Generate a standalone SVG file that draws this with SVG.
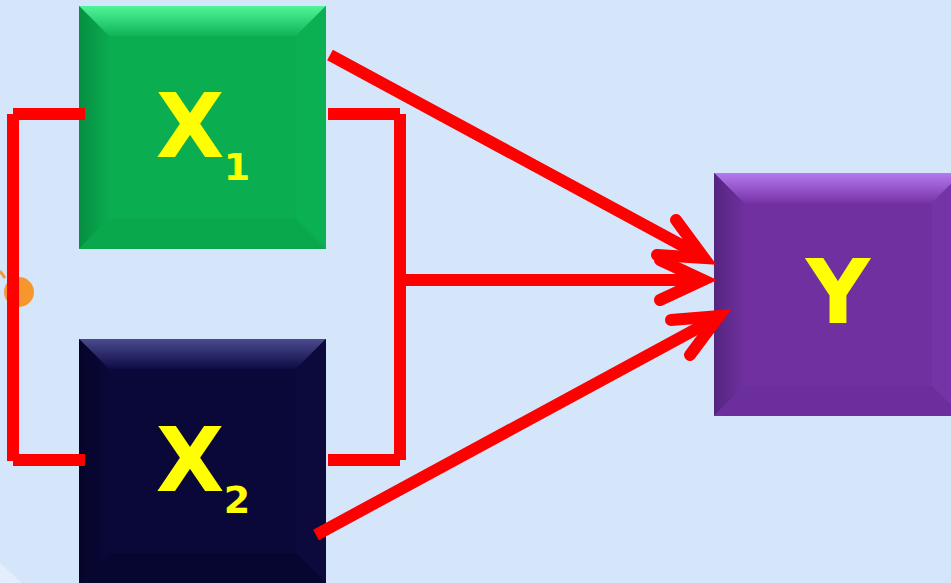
<svg xmlns="http://www.w3.org/2000/svg" width="951" height="583" viewBox="0 0 951 583">
<defs>
<linearGradient id="gTop" x1="0" y1="0" x2="0" y2="1"><stop offset="0" stop-color="#50f59a"/><stop offset="1" stop-color="#10b457"/></linearGradient>
<linearGradient id="gLeft" x1="0" y1="0" x2="1" y2="0"><stop offset="0" stop-color="#068f42"/><stop offset="1" stop-color="#0aab4f"/></linearGradient>
<linearGradient id="pTop" x1="0" y1="0" x2="0" y2="1"><stop offset="0" stop-color="#b57af0"/><stop offset="1" stop-color="#7634a6"/></linearGradient>
<linearGradient id="pLeft" x1="0" y1="0" x2="1" y2="0"><stop offset="0" stop-color="#542580"/><stop offset="1" stop-color="#6e309e"/></linearGradient>
<linearGradient id="nTop" x1="0" y1="0" x2="0" y2="1"><stop offset="0" stop-color="#4a4a8e"/><stop offset="1" stop-color="#0e0c45"/></linearGradient>
<linearGradient id="nLeft" x1="0" y1="0" x2="1" y2="0"><stop offset="0" stop-color="#050428"/><stop offset="1" stop-color="#0a0838"/></linearGradient>
</defs>
<style>
.lbl{font-family:"DejaVu Sans",Verdana,sans-serif;font-weight:bold;fill:#ffff00;text-anchor:middle}
.big{font-size:89px}
.sub{font-size:38px}
.wire{fill:none;stroke:#ff0000;stroke-width:12;stroke-linecap:butt}
.head{fill:none;stroke:#ff0000;stroke-width:12;stroke-linecap:round;stroke-linejoin:miter;stroke-miterlimit:10}
</style>
<rect width="951" height="583" fill="#d6e6fa"/>
<polygon points="0,563 22,583 0,583" fill="#e3eefc"/>
<line x1="0" y1="271" x2="5" y2="278" stroke="#f7962f" stroke-width="3"/>
<circle cx="19" cy="292" r="15" fill="#f7962f"/>

<g id="X1">
<rect x="79" y="6" width="247" height="243" fill="#0aad50"/>
<polygon points="79,6 326,6 296,36 109,36" fill="url(#gTop)"/>
<polygon points="79,6 109,36 109,219 79,249" fill="url(#gLeft)"/>
<polygon points="326,6 326,249 296,219 296,36" fill="#0bb052"/>
<polygon points="79,249 109,219 296,219 326,249" fill="#0aa84d"/>
<text class="lbl big" x="190" y="157">X</text>
<text class="lbl sub" x="237" y="180">1</text>
</g>

<g id="X2">
<rect x="79" y="339" width="247" height="244" fill="#0a0838"/>
<polygon points="79,339 326,339 296,369 109,369" fill="url(#nTop)"/>
<polygon points="79,339 109,369 109,553 79,583" fill="url(#nLeft)"/>
<polygon points="326,339 326,583 296,553 296,369" fill="#0c0a3c"/>
<polygon points="79,583 109,553 296,553 326,583" fill="#070630"/>
<text class="lbl big" x="190" y="491">X</text>
<text class="lbl sub" x="237" y="513">2</text>
</g>

<g id="Y">
<rect x="714" y="173" width="248" height="243" fill="#7030a0"/>
<polygon points="714,173 962,173 932,203 744,203" fill="url(#pTop)"/>
<polygon points="714,173 744,203 744,386 714,416" fill="url(#pLeft)"/>
<polygon points="962,173 962,416 932,386 932,203" fill="#7434a6"/>
<polygon points="714,416 744,386 932,386 962,416" fill="#6c2e9c"/>
<text class="lbl big" x="838" y="323">Y</text>
</g>

<g id="connectors">
<line class="wire" x1="13" y1="114" x2="13" y2="461"/>
<line class="wire" x1="13" y1="114" x2="85" y2="114"/>
<line class="wire" x1="13" y1="460" x2="85" y2="460"/>
<line class="wire" x1="400" y1="114" x2="400" y2="460"/>
<line class="wire" x1="328" y1="114" x2="400" y2="114"/>
<line class="wire" x1="328" y1="460" x2="400" y2="460"/>
<line class="wire" x1="330" y1="55" x2="696" y2="253"/>
<polyline class="head" points="676,220 704,258 657,255"/>
<line class="wire" x1="400" y1="280" x2="695" y2="280"/>
<polyline class="head" points="660,260 703,280 660,300"/>
<line class="wire" x1="316" y1="535" x2="711" y2="321"/>
<polyline class="head" points="671,320 719,316 690,355"/>
</g>
</svg>
